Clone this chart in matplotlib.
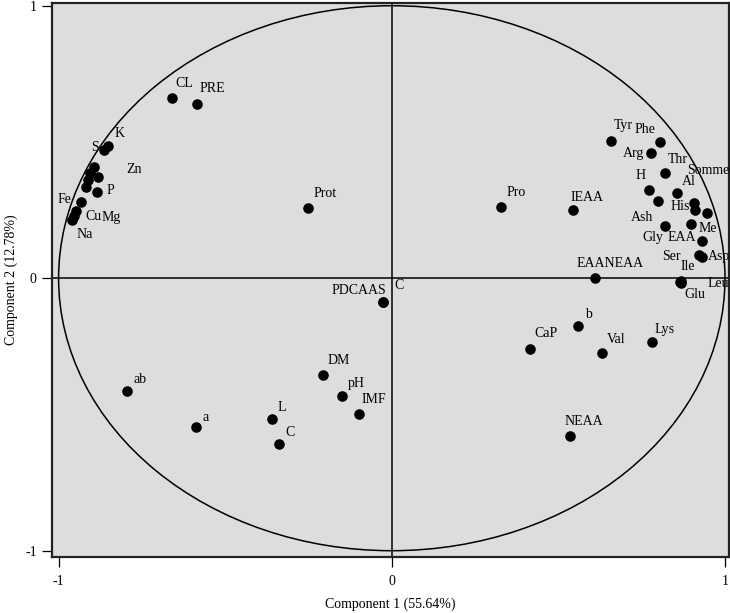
import matplotlib
matplotlib.use("Agg")
import matplotlib.pyplot as plt
from matplotlib.patches import Ellipse

plt.rcParams["font.family"] = ["Liberation Serif", "DejaVu Serif"]
plt.rcParams["axes.unicode_minus"] = False

# Loadings on the first two components
names = [
    "CL", "PRE", "K", "S", "Zn", "", "", "", "", "P", "Fe", "Cu", "Mg", "Na",
    "Prot", "PDCAAS", "C", "ab", "a", "L", "C", "DM", "pH", "IMF",
    "Pro", "IEAA", "EAANEAA", "CaP", "b", "Val", "Lys", "NEAA",
    "Tyr", "Phe", "Arg", "Thr", "H", "Al", "Ash", "His", "Me", "Somme",
    "Gly", "EAA", "", "Ser", "Asp", "Ile", "Glu", "Leu",
]
comp1 = [
    -0.661, -0.584, -0.853, -0.864, -0.893, -0.881, -0.906, -0.911, -0.919, -0.884, -0.933, -0.949, -0.955, -0.961,
    -0.252, -0.027, -0.027, -0.796, -0.589, -0.359, -0.338, -0.207, -0.149, -0.099,
    0.328, 0.545, 0.611, 0.415, 0.560, 0.632, 0.780, 0.535,
    0.657, 0.805, 0.777, 0.820, 0.773, 0.857, 0.800, 0.907, 0.910, 0.945,
    0.820, 0.897, 0.930, 0.923, 0.930, 0.865, 0.867, 0.869,
]
comp2 = [
    0.660, 0.639, 0.486, 0.470, 0.407, 0.372, 0.385, 0.360, 0.334, 0.315, 0.281, 0.247, 0.228, 0.214,
    0.258, -0.086, -0.086, -0.414, -0.545, -0.516, -0.608, -0.356, -0.432, -0.499,
    0.261, 0.250, 0.000, -0.261, -0.174, -0.273, -0.235, -0.579,
    0.505, 0.501, 0.458, 0.385, 0.324, 0.312, 0.283, 0.275, 0.250, 0.238,
    0.192, 0.199, 0.138, 0.085, 0.077, -0.013, -0.016, -0.012,
]

# label offsets from the dot, in pixels (right, down)
label_offsets = [
    (13, -15), (15, -16), (12, -12), (-9, -3), (40, 2), (0, 0), (0, 0), (0, 0), (0, 0), (13, -2), (-16, -2), (18, 6),
    (38, 1), (13, 15),
    (17, -14), (-24, -11), (16, -16), (13, -12), (10, -9), (10, -11), (11, -11), (16, -15), (14, -12), (15, -15),
    (15, -15), (14, -13), (15, -15), (16, -16), (10, -11), (14, -13), (13, -13), (14, -14),
    (13, -15), (-15, -12), (-17, 0), (13, -14), (-9, -14), (11, -12), (-16, 16), (-14, 3), (13, 18), (2, -43),
    (-12, 12), (-9, 14), (0, 0), (-28, 1), (17, -1), (8, -15), (14, 12), (37, 2),
]

fig = plt.figure(figsize=(7.3, 6.13), dpi=100)
ax = fig.add_axes([52 / 730, 56.3 / 613, 677 / 730, 553.7 / 613])
ax.set_facecolor("#dcdddd")
ax.set_xlim(-1.0198, 1.012)
ax.set_ylim(-1.022, 1.010)

ax.axhline(0, color="black", lw=1.1, zorder=1)
ax.axvline(0, color="black", lw=1.1, zorder=1)
ax.add_patch(Ellipse((0, 0), 2, 2, fill=False, ec="black", lw=1.1, zorder=1))

ax.scatter(comp1, comp2, s=58, color="black", zorder=3, linewidths=0)

for name, x, y, (dx, dy) in zip(names, comp1, comp2, label_offsets):
    if not name:
        continue
    t = ax.annotate(name, (x, y), xytext=(dx * 0.72, -dy * 0.72), textcoords="offset points",
                    ha="center", va="center", fontsize=10, zorder=4)
    t.set_clip_path(ax.patch)

for side in ["left", "right", "top", "bottom"]:
    ax.spines[side].set_linewidth(1.6)
    ax.spines[side].set_color("#222222")

ax.set_xticks([-1, 0, 1])
ax.set_yticks([-1, 0, 1])
ax.set_xticklabels(["-1", "0", "1"])
ax.set_yticklabels(["-1", "0", "1"])
ax.tick_params(axis="both", direction="out", length=7, width=0.9, labelsize=10)
ax.tick_params(axis="x", pad=6)
ax.tick_params(axis="y", pad=4)

ax.set_xlabel("Component 1 (55.64%)", fontsize=10, labelpad=7)
ax.set_ylabel("Component 2 (12.78%)", fontsize=10, labelpad=5)

fig.savefig("out.png", dpi=100)
